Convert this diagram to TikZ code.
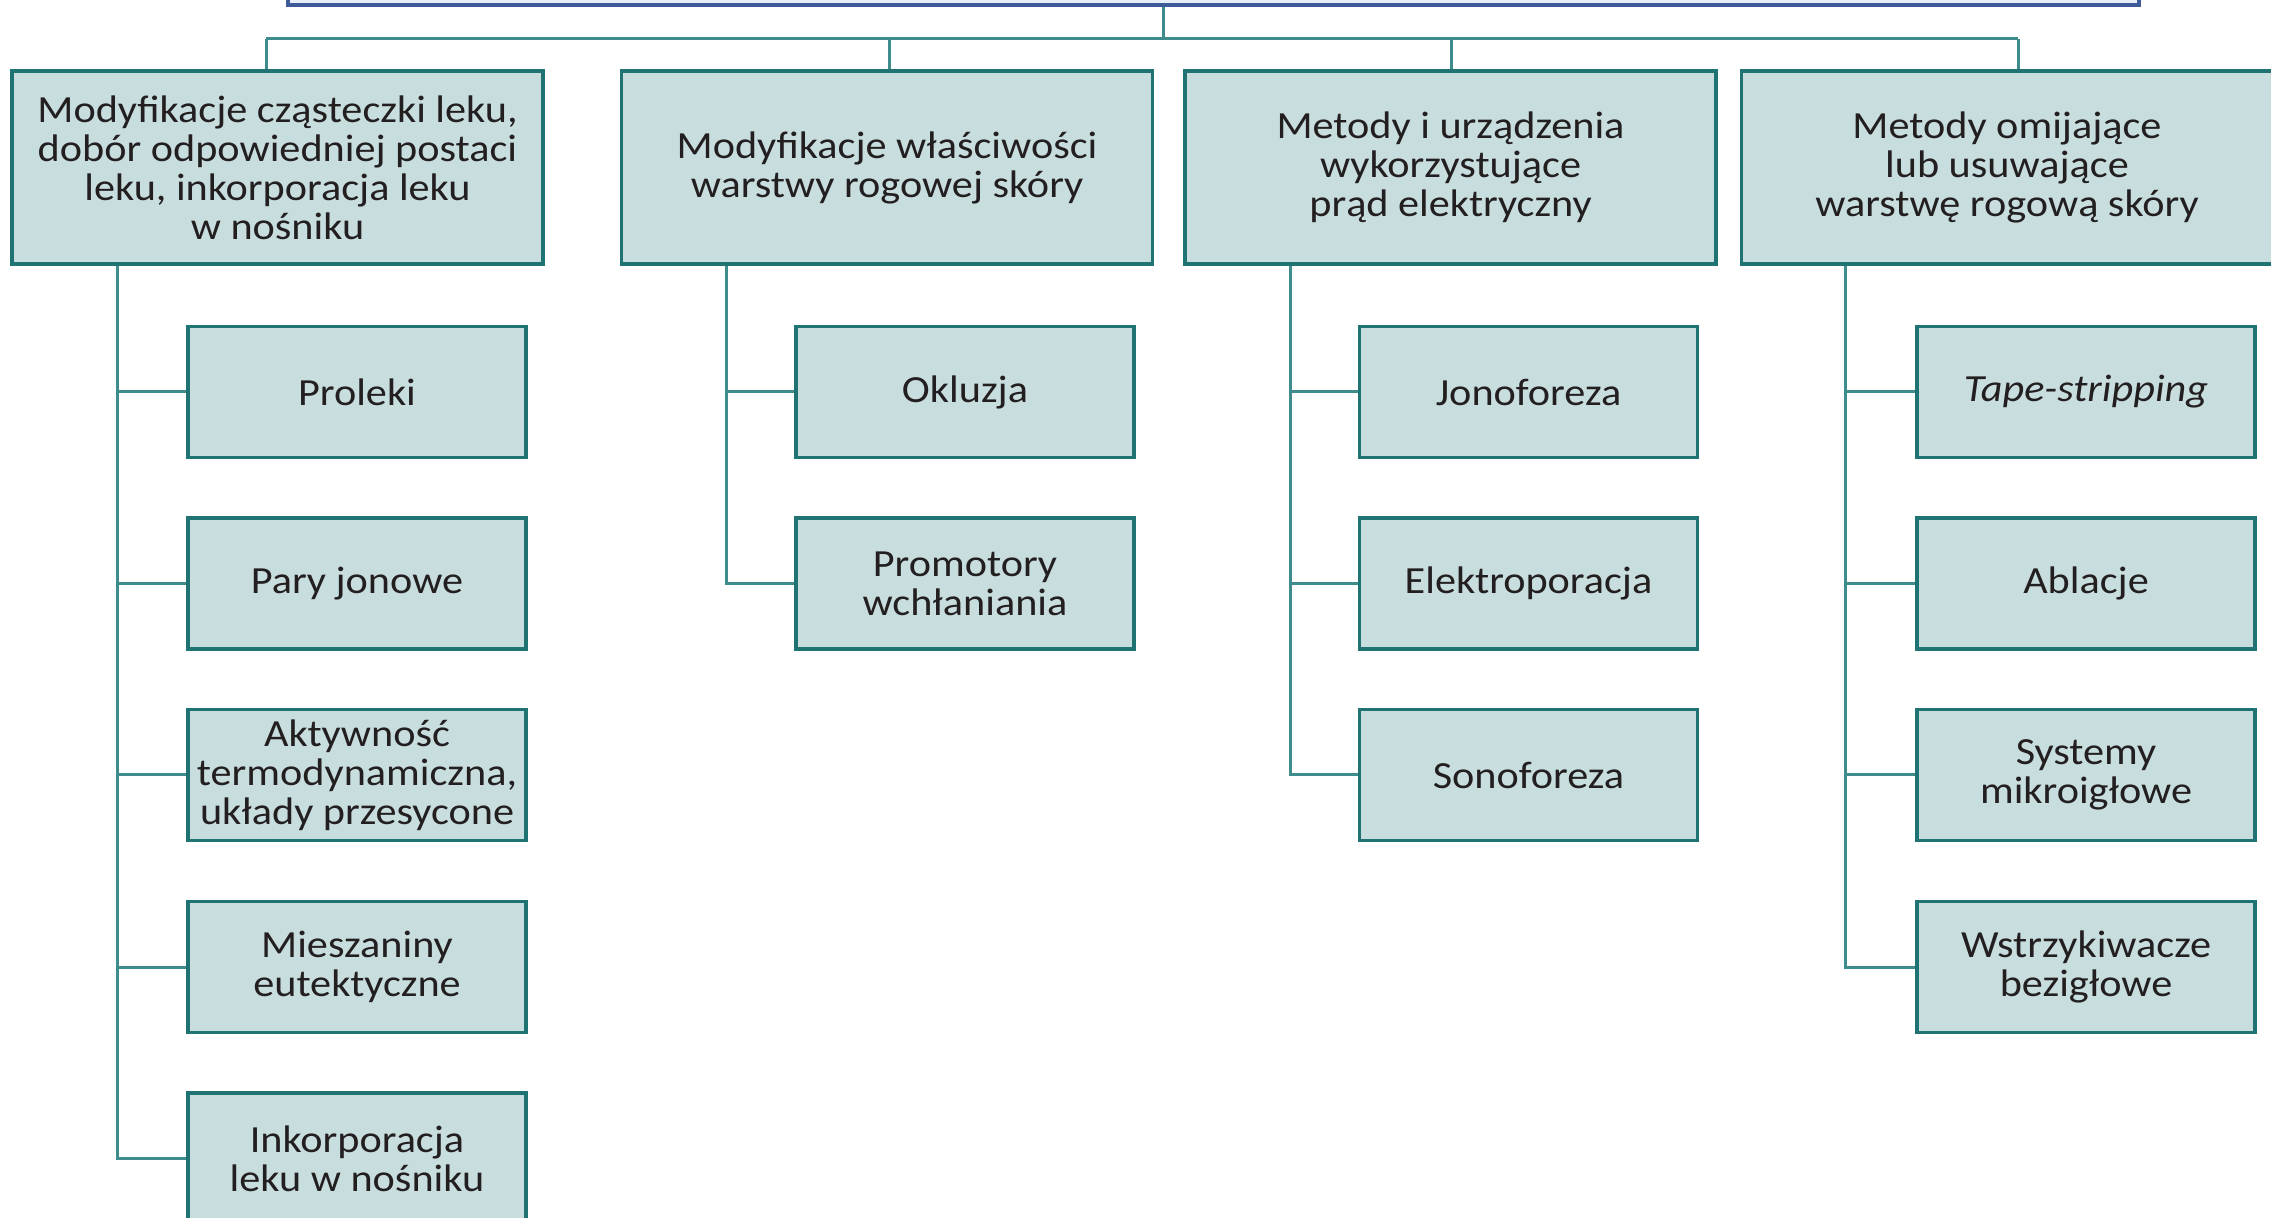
\documentclass[tikz,border=0pt]{standalone}
\usepackage{fontspec}
\setmainfont[FakeStretch=1.1]{Carlito}
\definecolor{boxfill}{HTML}{C8DDDE}
\definecolor{boxline}{HTML}{1F7373}
\definecolor{connline}{HTML}{3E8C8C}
\definecolor{topfill}{HTML}{E9EFF8}
\definecolor{topline}{HTML}{3D5A99}
\definecolor{txt}{HTML}{231F20}
\begin{document}
\begin{tikzpicture}[x=0.5pt,y=-0.5pt,
  box/.style={draw=boxline, fill=boxfill, line width=1.9pt, align=center, inner sep=0pt,
    font=\fontsize{19.2}{19.5}\selectfont, text=txt},
  lone/.style={box, minimum width=265.5pt, minimum height=96.5pt},
  ltwo/.style={box, minimum width=169pt, minimum height=65.5pt},
  conn/.style={draw=connline, line width=1.5pt}]
\useasboundingbox (0,0) rectangle (2271,1218);
\clip (0,0) rectangle (2271,1218);
% top box (mostly off the page)
\node[draw=topline, fill=topfill, line width=1.7pt, minimum width=925.5pt, minimum height=60pt, inner sep=0pt] (top) at (1213.5,-55) {};
% level one
\node[lone] (b1) at (277.5,167.5) {Modyfikacje cząsteczki leku,\\dobór odpowiedniej postaci\\leku, inkorporacja leku\\w nośniku};
\node[lone] (b2) at (887,167.5) {Modyfikacje właściwości\\warstwy rogowej skóry};
\node[lone] (b3) at (1450.5,167.5) {Metody i urządzenia\\wykorzystujące\\prąd elektryczny};
\node[lone] (b4) at (2007,167.5) {Metody omijające\\lub usuwające\\warstwę rogową skóry};
% column 1
\node[ltwo] (a1) at (357,392) {Proleki};
\node[ltwo] (a2) at (357,583.5) {Pary jonowe};
\node[ltwo] (a3) at (357,775) {Aktywność\\termodynamiczna,\\układy przesycone};
\node[ltwo] (a4) at (357,967) {Mieszaniny\\eutektyczne};
\node[ltwo] (a5) at (357,1158.5) {Inkorporacja\\leku w nośniku};
% column 2
\node[ltwo] (d1) at (965,392) {Okluzja};
\node[ltwo] (d2) at (965,583.5) {Promotory\\wchłaniania};
% column 3
\node[ltwo] (e1) at (1528.5,392) {Jonoforeza};
\node[ltwo] (e2) at (1528.5,583.5) {Elektroporacja};
\node[ltwo] (e3) at (1528.5,775) {Sonoforeza};
% column 4
\node[ltwo] (f1) at (2086,392) {\itshape Tape-stripping};
\node[ltwo] (f2) at (2086,583.5) {Ablacje};
\node[ltwo] (f3) at (2086,775) {Systemy\\mikroigłowe};
\node[ltwo] (f4) at (2086,967) {Wstrzykiwacze\\bezigłowe};
% bus
\coordinate (bus) at (1163,39);
\coordinate (c1) at (266,39);
\coordinate (c2) at (889,39);
\coordinate (c3) at (1451,39);
\coordinate (c4) at (2018,39);
\draw[conn] (top.south -| bus) -- (bus);
\draw[conn] (c1) -- (c4);
\draw[conn] (c1) -- (c1 |- b1.north);
\draw[conn] (c2) -- (c2 |- b2.north);
\draw[conn] (c3) -- (c3 |- b3.north);
\draw[conn] (c4) -- (c4 |- b4.north);
% trunks
\coordinate (v1) at (117,0);
\coordinate (v2) at (726,0);
\coordinate (v3) at (1290,0);
\coordinate (v4) at (1845,0);
\draw[conn] (b1.south -| v1) |- (a5.west);
\foreach \n in {a1,a2,a3,a4} \draw[conn] (v1 |- \n.west) -- (\n.west);
\draw[conn] (b2.south -| v2) |- (d2.west);
\draw[conn] (v2 |- d1.west) -- (d1.west);
\draw[conn] (b3.south -| v3) |- (e3.west);
\foreach \n in {e1,e2} \draw[conn] (v3 |- \n.west) -- (\n.west);
\draw[conn] (b4.south -| v4) |- (f4.west);
\foreach \n in {f1,f2,f3} \draw[conn] (v4 |- \n.west) -- (\n.west);
\end{tikzpicture}
\end{document}
